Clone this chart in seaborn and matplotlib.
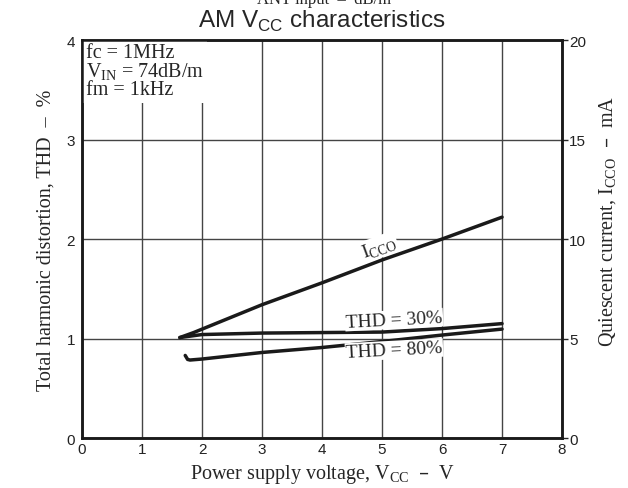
import pandas as pd
import seaborn as sns
import matplotlib.pyplot as plt

# supply voltage (V) vs quiescent current (mA), right axis
vcc_icco = [1.63, 1.86, 3.0, 4.0, 5.0, 6.0, 7.0]
icco_ma = [5.05, 5.3, 6.7, 7.8, 8.95, 10.0, 11.1]

# supply voltage (V) vs THD (%), left axis
vcc_thd30 = [1.63, 2.0, 3.0, 4.0, 5.0, 6.0, 7.0]
thd30 = [1.01, 1.04, 1.055, 1.06, 1.065, 1.1, 1.15]
vcc_thd80 = [1.72, 1.76, 1.8, 2.0, 3.0, 4.0, 5.0, 6.0, 7.0]
thd80 = [0.83, 0.79, 0.784, 0.794, 0.86, 0.91, 0.97, 1.035, 1.095]

x_ticks = [0, 1, 2, 3, 4, 5, 6, 7, 8]
thd_ticks = [0, 1, 2, 3, 4]
icco_ticks = [0, 5, 10, 15, 20]

SERIF = "Liberation Serif"

sns.set_style("white")
plt.rcParams["font.family"] = ["Liberation Sans", "DejaVu Sans"]

fig = plt.figure(figsize=(6.28, 4.89), dpi=100)
ax = fig.add_axes([0.1306, 0.1022, 0.7644, 0.8138])
ax2 = ax.twinx()

df30 = pd.DataFrame({"vcc": vcc_thd30, "thd": thd30})
df80 = pd.DataFrame({"vcc": vcc_thd80, "thd": thd80})
dfi = pd.DataFrame({"vcc": vcc_icco, "icco": icco_ma})

sns.lineplot(data=df30, x="vcc", y="thd", ax=ax, color="#1a1a1a", lw=2.5,
             sort=False, estimator=None, zorder=3)
sns.lineplot(data=df80, x="vcc", y="thd", ax=ax, color="#1a1a1a", lw=2.5,
             sort=False, estimator=None, zorder=3)
sns.lineplot(data=dfi, x="vcc", y="icco", ax=ax2, color="#1a1a1a", lw=2.5,
             sort=False, estimator=None, zorder=3)

ax.set_xlim(0, 8)
ax.set_ylim(0, 4)
ax2.set_ylim(0, 20)
ax.set_xticks(x_ticks)
ax.set_yticks(thd_ticks)
ax2.set_yticks(icco_ticks)

ax.grid(True, color="#444444", lw=1.0)
ax.set_axisbelow(True)
ax.tick_params(axis="both", length=0, labelsize=11, pad=3, labelcolor="#222222")
ax.tick_params(axis="y", pad=5)
ax2.tick_params(axis="y", direction="out", length=4, width=1, labelsize=11,
                pad=1, labelcolor="#222222")

for a in (ax, ax2):
    for s in a.spines.values():
        s.set_color("#1a1a1a")
        s.set_linewidth(1.8)

ax.set_xlabel("Power supply voltage, V$_\\mathregular{CC}$  \u2013  V",
              fontfamily=SERIF, fontsize=14.5, labelpad=4)
ax.set_ylabel("Total harmonic distortion, THD  \u2013  %",
              fontfamily=SERIF, fontsize=14.5, labelpad=8)
ax2.set_ylabel("")
fig.text(0.968, 0.548, "Quiescent current, I$_\\mathregular{CCO}$  \u2013  mA",
         fontfamily=SERIF, fontsize=14.5, rotation=90, ha="center", va="center")

# condition box in the top-left corner
ax.text(0.06, 3.97, "fc = 1MHz\nV$_\\mathregular{IN}$ = 74dB/m\nfm = 1kHz",
        fontfamily=SERIF, fontsize=14.5, ha="left", va="top", linespacing=0.9,
        bbox=dict(facecolor="white", edgecolor="none", pad=2.5), zorder=5)

# curve labels
ax2.text(4.95, 9.6, "I$_\\mathregular{CCO}$", fontfamily=SERIF, fontsize=14,
         rotation=20, ha="center", va="center", rotation_mode="anchor",
         bbox=dict(facecolor="white", edgecolor="none", pad=0.5), zorder=5)
ax.text(5.2, 1.19, "THD = 30%", fontfamily=SERIF, fontsize=14, rotation=3,
        ha="center", va="center", rotation_mode="anchor",
        bbox=dict(facecolor="white", edgecolor="none", pad=0.5), zorder=5)
ax.text(5.2, 0.885, "THD = 80%", fontfamily=SERIF, fontsize=14, rotation=3,
        ha="center", va="center", rotation_mode="anchor",
        bbox=dict(facecolor="white", edgecolor="none", pad=0.5), zorder=5)

fig.text(0.513, 0.943, "AM V$_\\mathregular{CC}$ characteristics", fontsize=17.5,
         ha="center", va="baseline")
fig.text(0.516, 0.999, "ANT input  \u2013  dB/m", fontfamily=SERIF, fontsize=12,
         ha="center", va="center")

fig.savefig("out.png", dpi=100)
